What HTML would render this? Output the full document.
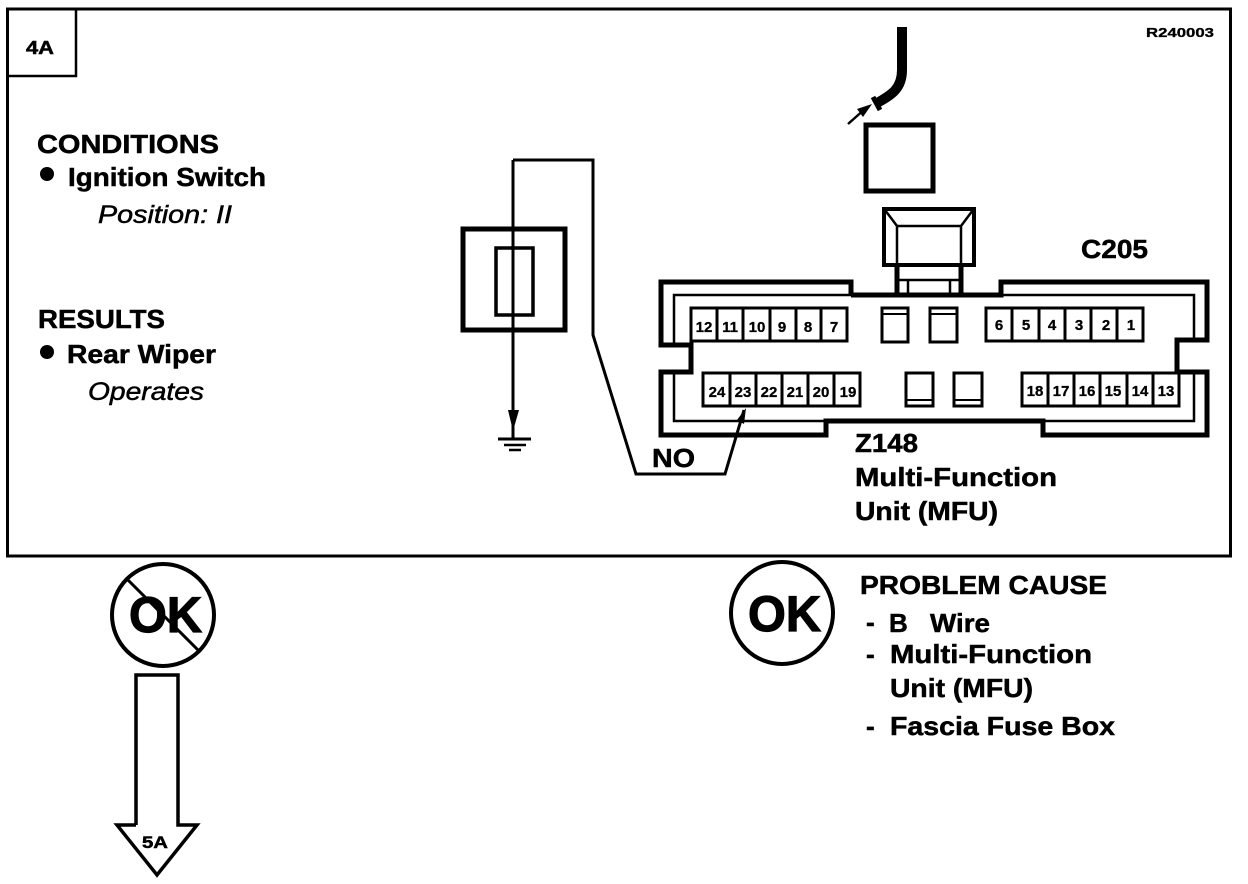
<!DOCTYPE html>
<html>
<head>
<meta charset="utf-8">
<style>
html,body{margin:0;padding:0;background:#fff;width:1248px;height:884px;overflow:hidden}
svg{display:block}
text{font-family:"Liberation Sans",sans-serif;font-weight:bold;fill:#000;stroke:#000;stroke-width:.5px}
.p text{font-size:15px;text-anchor:middle;stroke-width:.3px}
.l{font-size:26px}
</style>
</head>
<body>
<svg width="1248" height="884" viewBox="0 0 1248 884" xmlns="http://www.w3.org/2000/svg" fill="none" stroke="#000" stroke-linejoin="miter">
<rect width="1248" height="884" fill="#fff" stroke="none"/>
<rect x="7.5" y="9" width="1223" height="547" stroke-width="3"/>
<path d="M8 76H76V9" stroke-width="2.5"/>
<text x="26" y="54" font-size="18" textLength="28" lengthAdjust="spacingAndGlyphs">4A</text>
<text x="1146" y="37" font-size="13" textLength="68" lengthAdjust="spacingAndGlyphs" style="stroke-width:.3px">R240003</text>

<text x="37" y="153" class="l" textLength="182" lengthAdjust="spacingAndGlyphs">CONDITIONS</text>
<circle cx="47" cy="174" r="7" fill="#000" stroke="none"/>
<text x="68" y="186" class="l" textLength="198" lengthAdjust="spacingAndGlyphs">Ignition Switch</text>
<text x="98" y="223" font-size="25" font-style="italic" textLength="134" lengthAdjust="spacingAndGlyphs" style="font-weight:normal;stroke-width:.5px">Position: II</text>
<text x="38" y="328" class="l" textLength="127" lengthAdjust="spacingAndGlyphs">RESULTS</text>
<circle cx="47" cy="352" r="7" fill="#000" stroke="none"/>
<text x="67" y="363" class="l" textLength="149" lengthAdjust="spacingAndGlyphs">Rear Wiper</text>
<text x="88" y="400" font-size="25" font-style="italic" textLength="116" lengthAdjust="spacingAndGlyphs" style="font-weight:normal;stroke-width:.5px">Operates</text>

<!-- wiper wire and connector plug -->
<path d="M902 27V70C902 88 892 95 877 103" stroke-width="10"/>
<path d="M873 97L880 110" stroke-width="5"/>
<path d="M848 124L866 108" stroke-width="2.5"/>
<path d="M872 104L857 109L863 117Z" fill="#000" stroke="none"/>
<rect x="866" y="125" width="67" height="66" stroke-width="5"/>

<!-- left component and circuit -->
<rect x="463" y="229" width="102" height="101" stroke-width="5"/>
<rect x="496" y="248" width="37" height="67" stroke-width="3.5"/>
<path d="M513 160H593V335L636 474H725L744 410" stroke-width="3"/>
<path d="M513 160V438" stroke-width="3"/>
<path d="M508 410H519L513 431Z" fill="#000" stroke="none"/>
<path d="M498 439H531" stroke-width="3"/>
<path d="M504 445H526" stroke-width="2.5"/>
<path d="M509 450H521" stroke-width="2.5"/>
<path d="M737 420L746 408L744 424Z" fill="#000" stroke="none"/>
<text x="652" y="467" class="l" textLength="43" lengthAdjust="spacingAndGlyphs">NO</text>

<!-- relay on top -->
<rect x="884" y="209" width="90" height="56" stroke-width="4"/>
<path d="M897 265V226H961V265M885 210L897 226M973 210L961 226" stroke-width="2.5"/>
<path d="M897 265V295M961 265V295" stroke-width="5"/>
<path d="M897 280H961M908 280V295M950 280V295" stroke-width="2.5"/>

<!-- C205 connector -->
<path d="M851 295V282H661V345H691V372H661V435H826V421H1043V435H1207V372H1177V340H1207V282H1001V295H851" stroke-width="5"/>
<path d="M851 295H674V345M674 372V421H826M1043 421H1194V372M1194 340V295H1001" stroke-width="2.5"/>

<g stroke-width="3">
<rect x="691" y="308" width="156" height="33"/>
<rect x="986" y="308" width="157" height="33"/>
<rect x="703" y="373" width="157" height="33"/>
<rect x="1022" y="373" width="157" height="33"/>
<path d="M717 308v33M743 308v33M770 308v33M796 308v33M821 308v33"/>
<path d="M1012 308v33M1039 308v33M1065 308v33M1091 308v33M1117 308v33"/>
<path d="M730 373v33M756 373v33M782 373v33M808 373v33M834 373v33"/>
<path d="M1048 373v33M1074 373v33M1100 373v33M1127 373v33M1153 373v33"/>
<rect x="882" y="308" width="26" height="34"/>
<rect x="930" y="308" width="27" height="34"/>
<rect x="906" y="373" width="27" height="33"/>
<rect x="954" y="373" width="28" height="33"/>
</g>
<path d="M882 314H908M930 314H957M906 400H933M954 400H982" stroke-width="2"/>

<g class="p">
<text x="704" y="332">12</text><text x="730" y="332">11</text><text x="757" y="332">10</text><text x="782" y="332">9</text><text x="808" y="332">8</text><text x="834" y="332">7</text>
<text x="999" y="330">6</text><text x="1026" y="330">5</text><text x="1052" y="330">4</text><text x="1079" y="330">3</text><text x="1106" y="330">2</text><text x="1131" y="330">1</text>
<text x="717" y="397">24</text><text x="743" y="397">23</text><text x="769" y="397">22</text><text x="795" y="397">21</text><text x="821" y="397">20</text><text x="848" y="397">19</text>
<text x="1035" y="396">18</text><text x="1061" y="396">17</text><text x="1087" y="396">16</text><text x="1113" y="396">15</text><text x="1140" y="396">14</text><text x="1166" y="396">13</text>
</g>

<text x="1081" y="258" class="l" textLength="67" lengthAdjust="spacingAndGlyphs">C205</text>
<text x="855" y="452" class="l" textLength="63" lengthAdjust="spacingAndGlyphs">Z148</text>
<text x="855" y="486" class="l" textLength="202" lengthAdjust="spacingAndGlyphs">Multi-Function</text>
<text x="855" y="520" class="l" textLength="143" lengthAdjust="spacingAndGlyphs">Unit (MFU)</text>

<!-- not OK + arrow -->
<circle cx="163" cy="615" r="51" stroke-width="4"/>
<text x="129" y="632" font-size="50" textLength="73" lengthAdjust="spacingAndGlyphs" style="stroke-width:1.2px">OK</text>
<path d="M127 579L200 652" stroke-width="3"/>
<path d="M136 825V675H178V825H197L157 875L117 825H136" stroke-width="3.5"/>
<text x="142" y="848" font-size="17" textLength="26" lengthAdjust="spacingAndGlyphs">5A</text>

<!-- OK + causes -->
<circle cx="782" cy="613" r="51" stroke-width="4"/>
<text x="748" y="631" font-size="50" textLength="73" lengthAdjust="spacingAndGlyphs" style="stroke-width:1.2px">OK</text>

<text x="860" y="594" class="l" textLength="247" lengthAdjust="spacingAndGlyphs">PROBLEM CAUSE</text>
<text x="866" y="631" class="l">-</text><text x="889" y="632" class="l">B</text><text x="930" y="632" class="l" textLength="60" lengthAdjust="spacingAndGlyphs">Wire</text>
<text x="866" y="663" class="l">-</text><text x="890" y="663" class="l" textLength="202" lengthAdjust="spacingAndGlyphs">Multi-Function</text>
<text x="890" y="697" class="l" textLength="143" lengthAdjust="spacingAndGlyphs">Unit (MFU)</text>
<text x="866" y="735" class="l">-</text><text x="890" y="735" class="l" textLength="225" lengthAdjust="spacingAndGlyphs">Fascia Fuse Box</text>
</svg>
</body>
</html>
